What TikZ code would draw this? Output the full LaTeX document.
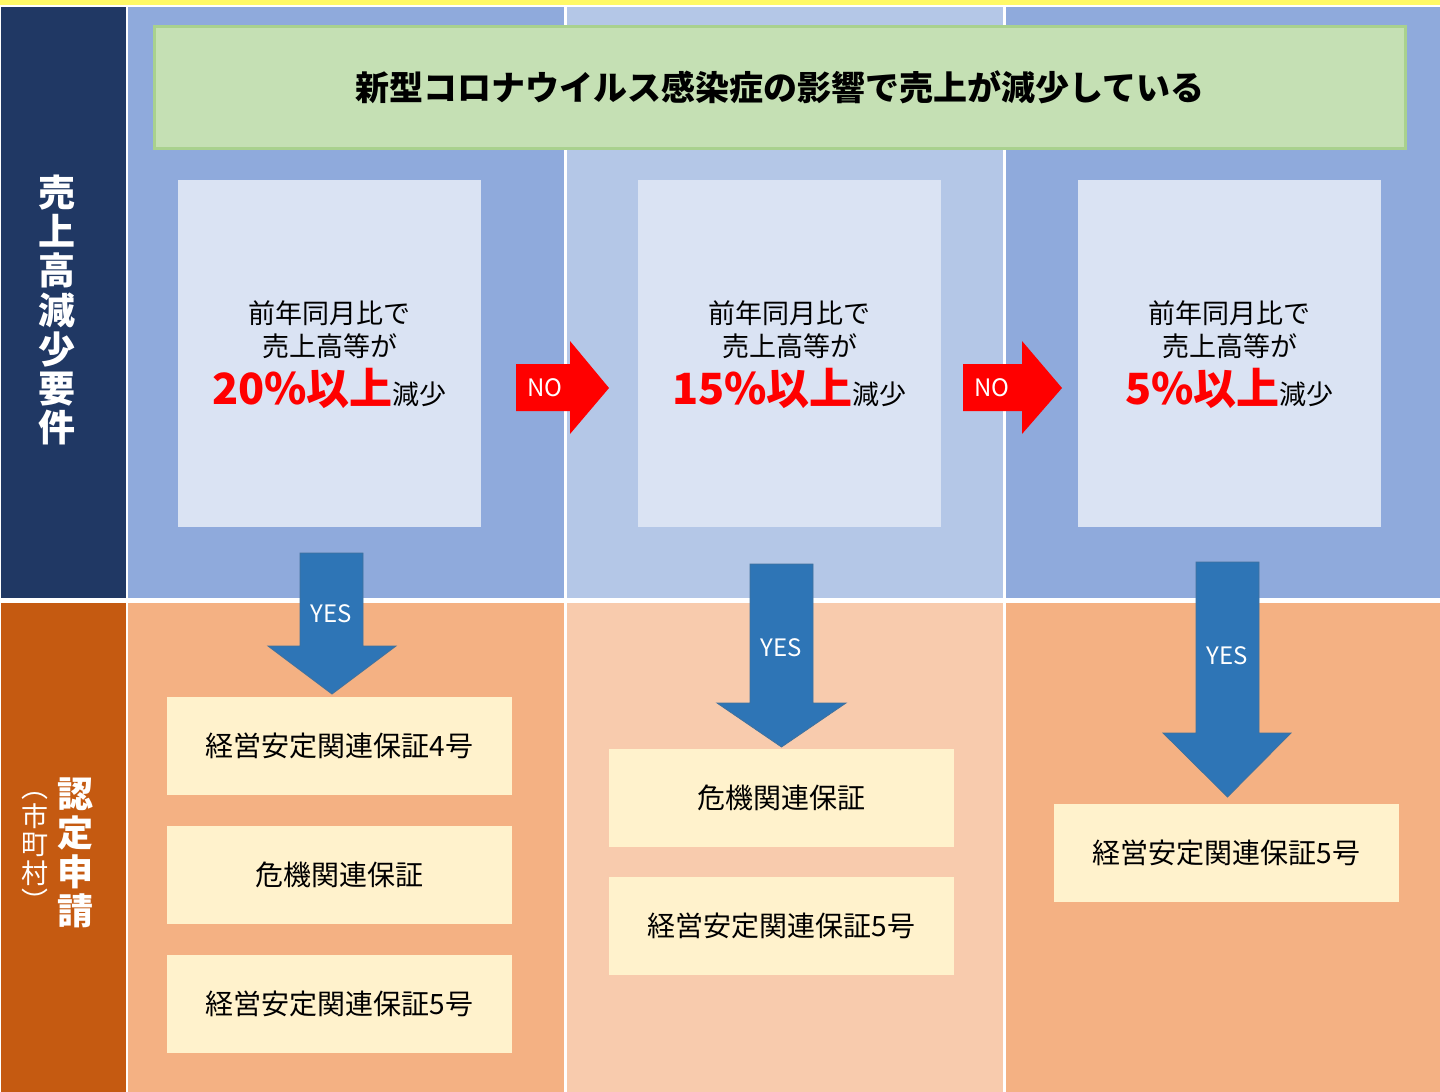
\documentclass[tikz,border=0pt]{standalone}
\usepackage{fontspec}
\setmainfont{Noto Sans CJK JP}
\definecolor{cyellow}{HTML}{FFF966}
\definecolor{cnavy}{HTML}{203864}
\definecolor{cbrown}{HTML}{C55A11}
\definecolor{cblue}{HTML}{8FAADC}
\definecolor{cbluel}{HTML}{B4C7E7}
\definecolor{cboxb}{HTML}{DAE3F3}
\definecolor{corange}{HTML}{F4B183}
\definecolor{corangel}{HTML}{F8CBAD}
\definecolor{ccream}{HTML}{FFF2CC}
\definecolor{cgreen}{HTML}{C5E0B4}
\definecolor{cgreenb}{HTML}{A9D18E}
\definecolor{carrow}{HTML}{2E75B6}
\definecolor{carrowb}{HTML}{41719C}
\tikzset{
  panel/.style={draw=none},
  condtext/.style={font=\fontsize{27}{30}\selectfont, text=black, inner sep=0pt},
  resbox/.style={fill=ccream, draw=none},
  restext/.style={font=\fontsize{28}{32}\selectfont, text=black, inner sep=0pt},
  yesarrow/.style={fill=carrow, draw=carrowb, line width=0.8pt},
  noarrow/.style={fill=red, draw=none},
  arrowtext/.style={font=\fontsize{24}{26}\selectfont, text=white, inner sep=0pt},
  sidetext/.style={text=white, align=center, inner sep=0pt}
}
\begin{document}
\begin{tikzpicture}[x=1pt,y=-1pt]
\useasboundingbox (0,0) rectangle (1440,1092);
\fill[white] (0,0) rectangle (1440,1092);
% top strip
\fill[cyellow] (0,0) rectangle (1440,5);
% panels
\fill[cnavy] (1,7) rectangle (126,598);
\fill[cblue] (128,7) rectangle (564,598);
\fill[cbluel] (567,7) rectangle (1003,598);
\fill[cblue] (1006,7) rectangle (1440,598);
\fill[cbrown] (1,603) rectangle (126,1092);
\fill[corange] (128,603) rectangle (564,1092);
\fill[corangel] (567,603) rectangle (1003,1092);
\fill[corange] (1006,603) rectangle (1440,1092);
% title box
\node[draw=cgreenb, line width=3pt, fill=cgreen, minimum width=1251pt, minimum height=122pt, inner sep=0pt,
      font=\fontsize{34}{38}\selectfont\bfseries] (title) at (780,87.5) {新型コロナウイルス感染症の影響で売上が減少している};
% side labels
\node[sidetext, font=\fontsize{37}{39.3}\selectfont\bfseries] (side1) at (57,310)
  {売\\上\\高\\減\\少\\要\\件};
\node[sidetext, font=\fontsize{36}{39}\selectfont\bfseries] (side2) at (75.5,853)
  {認\\定\\申\\請};
\node[sidetext, font=\fontsize{27}{28.5}\selectfont] (side3) at (35,852)
  {︵\\市\\町\\村\\︶};
% condition boxes
\foreach \cx/\nm/\pc in {329.5/c1/20, 789.5/c2/15, 1229.5/c3/5}{
  \fill[cboxb] (\cx-151.5,180) rectangle (\cx+151.5,527);
  \node[condtext] (\nm a) at (\cx,313) {前年同月比で};
  \node[condtext] (\nm b) at (\cx,346) {売上高等が};
  \node[anchor=base, inner sep=0pt] (\nm c) at (\cx,404) {{\fontsize{43}{46}\selectfont\bfseries\color{red}\pc\%以上}{\fontsize{27}{30}\selectfont 減少}};
}
% NO arrows
\fill[noarrow] (516,364) -- (570,364) -- (570,341) -- (609,388) -- (570,434) -- (570,411) -- (516,411) -- cycle;
\node[arrowtext] (no1) at (545,388) {NO};
\fill[noarrow] (963,364) -- (1022,364) -- (1022,341) -- (1062,388) -- (1022,434) -- (1022,411) -- (963,411) -- cycle;
\node[arrowtext] (no2) at (992,388) {NO};
% YES arrows
\filldraw[yesarrow] (300,553) -- (363,553) -- (363,646) -- (396,646) -- (332,694) -- (268,646) -- (300,646) -- cycle;
\node[arrowtext] (yes1) at (331.5,614) {YES};
\filldraw[yesarrow] (750,564) -- (813,564) -- (813,703) -- (846,703) -- (781.5,747) -- (717,703) -- (750,703) -- cycle;
\node[arrowtext] (yes2) at (781.5,648) {YES};
\filldraw[yesarrow] (1196,562) -- (1259,562) -- (1259,733) -- (1291,733) -- (1227.5,797) -- (1163,733) -- (1196,733) -- cycle;
\node[arrowtext] (yes3) at (1227.5,656) {YES};
% result boxes
\node[resbox, restext, minimum width=345pt, minimum height=98pt] (r11) at (339.5,746) {経営安定関連保証4号};
\node[resbox, restext, minimum width=345pt, minimum height=98pt] (r12) at (339.5,875) {危機関連保証};
\node[resbox, restext, minimum width=345pt, minimum height=98pt] (r13) at (339.5,1004) {経営安定関連保証5号};
\node[resbox, restext, minimum width=345pt, minimum height=98pt] (r21) at (781.5,798) {危機関連保証};
\node[resbox, restext, minimum width=345pt, minimum height=98pt] (r22) at (781.5,926) {経営安定関連保証5号};
\node[resbox, restext, minimum width=345pt, minimum height=98pt] (r31) at (1226.5,853) {経営安定関連保証5号};
\end{tikzpicture}
\end{document}
